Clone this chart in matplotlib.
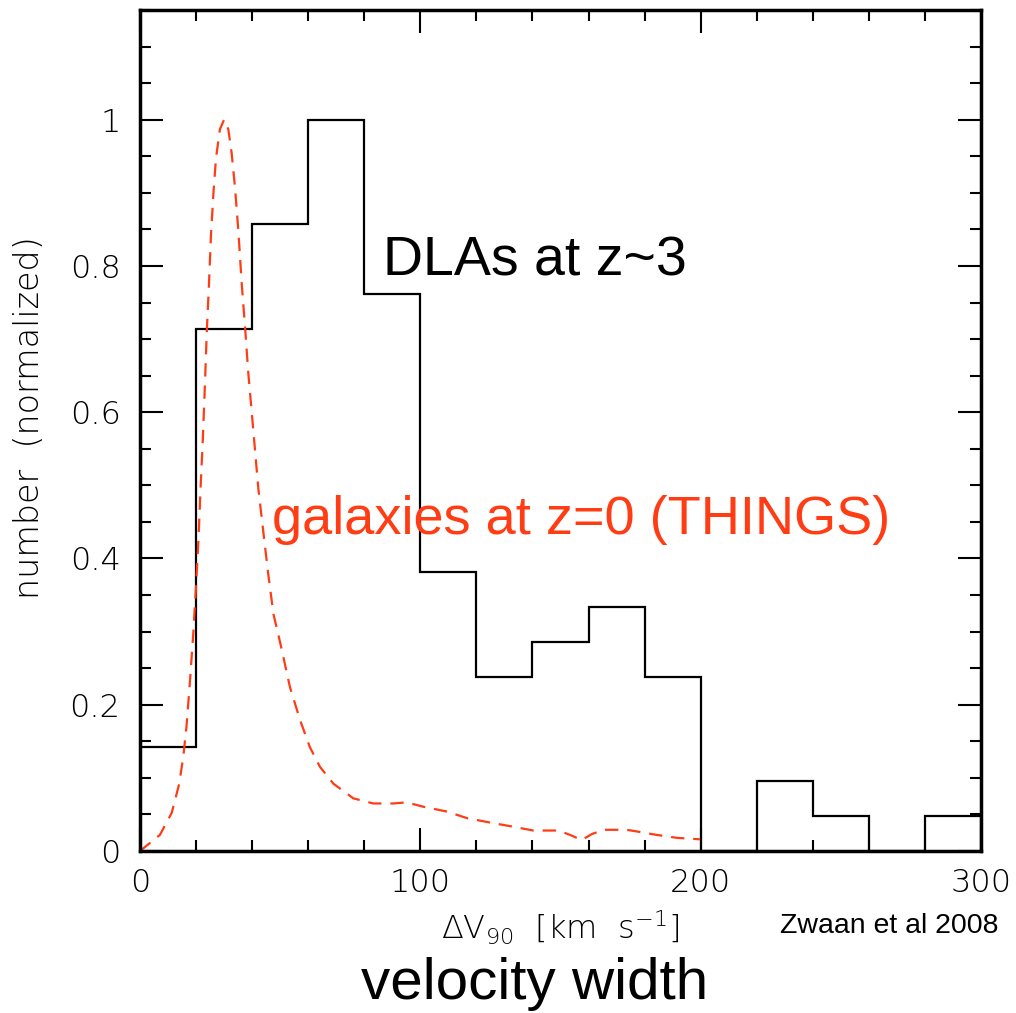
import numpy as np
import matplotlib
matplotlib.use("Agg")
import matplotlib.pyplot as plt
from matplotlib.ticker import MultipleLocator, FixedLocator, FixedFormatter

# DLA velocity-width histogram (20 km/s bins, normalised to the peak)
bin_edges = [0, 20, 40, 60, 80, 100, 120, 140, 160, 180, 200, 220, 240, 260, 280, 300]
dla_counts = [3, 15, 18, 21, 16, 8, 5, 6, 7, 5, 0, 2, 1, 0, 1]
dla_norm = [c / 21.0 for c in dla_counts]

# THINGS galaxies, z=0 (dashed curve)
things_v = [0, 7.1, 11.3, 14.0, 15.5, 16.6, 17.8, 19.0, 20.0, 20.9, 21.6, 22.4, 23.2,
            23.8, 24.6, 25.3, 26.2, 27.1, 28.5, 30.0, 31.5, 32.7, 33.9, 35.1, 36.3,
            37.5, 38.6, 40.4, 42.2, 44.0, 45.8, 47.6, 50.0, 53.5, 57.1, 60.6, 64.2,
            69.0, 76.1, 83.2, 90.4, 95.1, 101.1, 109.4, 116.6, 126.1, 132.0, 140.3,
            149.2, 153.4, 157.6, 161.1, 165.3, 173.6, 178.4, 184.3, 191.5, 199.8]
things_n = [0, 0.022, 0.052, 0.092, 0.131, 0.171, 0.231, 0.297, 0.363, 0.43, 0.496,
            0.562, 0.642, 0.708, 0.775, 0.841, 0.90, 0.947, 0.987, 1.0, 0.987, 0.954,
            0.907, 0.847, 0.775, 0.715, 0.655, 0.576, 0.496, 0.436, 0.377, 0.324,
            0.285, 0.224, 0.179, 0.142, 0.115, 0.092, 0.072, 0.065, 0.065, 0.0665,
            0.0605, 0.054, 0.045, 0.038, 0.034, 0.028, 0.028, 0.022, 0.015, 0.023,
            0.029, 0.029, 0.026, 0.022, 0.018, 0.016]

ytick_vals = [0, 0.2, 0.4, 0.6, 0.8, 1.0]
ytick_labels = ["0", "0.2", "0.4", "0.6", "0.8", "1"]
xtick_vals = [0, 100, 200, 300]
xtick_labels = ["0", "100", "200", "300"]

red = "#ff3c14"
W, H = 1016, 1013

plt.rcParams["mathtext.fontset"] = "custom"
plt.rcParams["mathtext.rm"] = "DejaVu Sans:weight=light"
plt.rcParams["mathtext.it"] = "DejaVu Sans:weight=light"

fig = plt.figure(figsize=(W / 100, H / 100), dpi=100)
ax = fig.add_axes([140 / W, 1 - 851 / H, (981 - 140) / W, (851 - 10) / H])

ax.stairs(dla_norm, bin_edges, color="k", lw=1.6)
ax.plot(things_v, things_n, color=red, lw=1.6, linestyle=(0, (6, 4)))

ax.set_xlim(0, 300)
ax.set_ylim(0, 1.15)

ax.xaxis.set_major_locator(FixedLocator(xtick_vals))
ax.xaxis.set_major_formatter(FixedFormatter(xtick_labels))
ax.xaxis.set_minor_locator(MultipleLocator(20))
ax.yaxis.set_major_locator(FixedLocator(ytick_vals))
ax.yaxis.set_major_formatter(FixedFormatter(ytick_labels))
ax.yaxis.set_minor_locator(MultipleLocator(0.05))

ax.tick_params(which="both", direction="in", top=True, right=True, width=1.5, color="k")
ax.tick_params(which="major", length=16.5)
ax.tick_params(which="minor", length=8)
ax.tick_params(axis="x", which="major", pad=12)
ax.tick_params(axis="y", which="major", pad=14)
for lab in ax.get_xticklabels() + ax.get_yticklabels():
    lab.set_fontfamily("DejaVu Sans")
    lab.set_fontweight("light")
    lab.set_fontsize(23)
for sp in ax.spines.values():
    sp.set_linewidth(2.5)

ax.text(86.7, 0.787, "DLAs at z~3", fontsize=40, family="Liberation Sans",
        color="k", ha="left", va="baseline")
ax.text(47.1, 0.434, "galaxies at z=0 (THINGS)", fontsize=39, family="Liberation Sans",
        color=red, ha="left", va="baseline")

fig.text(560 / W, 1 - 940 / H, r"$\Delta$V$_{90}$  [km  s$^{-1}$]", fontsize=23,
         family="DejaVu Sans", fontweight="light", ha="center", va="baseline")
fig.text(998 / W, 1 - 933 / H, "Zwaan et al 2008", fontsize=20.5,
         family="Liberation Sans", ha="right", va="baseline")
fig.text(535 / W, 1 - 999 / H, "velocity width", fontsize=42,
         family="Liberation Sans", ha="center", va="baseline")
fig.text(30 / W, 1 - 418 / H, "number  (normalized)", fontsize=24, rotation=90,
         family="DejaVu Sans", fontweight="light", ha="center", va="center")

fig.savefig("out.png", dpi=100)
